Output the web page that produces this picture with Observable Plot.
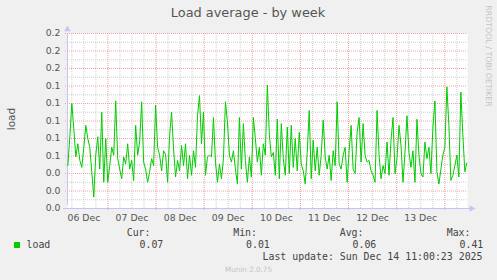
<!DOCTYPE html>
<html><head><meta charset="utf-8">
<script src="https://cdn.jsdelivr.net/npm/d3@7"></script>
<script src="https://cdn.jsdelivr.net/npm/@observablehq/plot@0.6"></script>
<style>
html,body{margin:0;padding:0;background:#f0f0f0;}
#wrap{position:relative;width:497px;height:280px;background:#f0f0f0;overflow:hidden;font-family:"DejaVu Sans",sans-serif;}
#wrap svg{position:absolute;left:0;top:0;}
.t{position:absolute;white-space:pre;line-height:1;}
.mono{font-family:"DejaVu Sans Mono",monospace;font-size:9.9px;color:#444;}
</style></head><body><div id="wrap"></div>
<script>
const title = "Load average - by week";
const yLabel = "load";
const seriesName = "load";
const seriesColor = "#00cc00";
const watermark = "RRDTOOL / TOBI OETIKER";
const footer = "Munin 2.0.75";
const lastUpdate = "Last update: Sun Dec 14 11:00:23 2025";
const statLabels = ["Cur:", "Min:", "Avg:", "Max:"];
const statValues = ["0.07", "0.01", "0.06", "0.41"];

// time window (UTC)
const firstSample = new Date(Date.UTC(2025, 11, 6, 4, 0));
const lastSample = new Date(Date.UTC(2025, 11, 14, 11, 0));
const viewStart = new Date(Date.UTC(2025, 11, 6, 3, 50));
const viewEnd = new Date(Date.UTC(2025, 11, 14, 11, 20));

const yTicks = [0, 0.02, 0.04, 0.06, 0.08, 0.10, 0.12, 0.14, 0.16, 0.18, 0.20];
const yTickLabels = ["0.0","0.0","0.0","0.1","0.1","0.1","0.1","0.1","0.2","0.2","0.2"];
const dayLabels = ["06 Dec","07 Dec","08 Dec","09 Dec","10 Dec","11 Dec","12 Dec","13 Dec"];
const dayLabelDates = [6,7,8,9,10,11,12,13].map(d => new Date(Date.UTC(2025, 11, d, 12)));
const dayBoundaries = [7,8,9,10,11,12,13,14].map(d => new Date(Date.UTC(2025, 11, d)));

// hourly load readings
const loadValues = [
0.049,0.082,0.120,0.091,0.059,0.074,0.055,0.047,0.070,0.095,0.080,0.070,0.042,0.013,0.061,0.082,0.045,0.110,0.030,0.080,0.030,0.049,0.070,0.061,0.123,0.057,0.045,0.034,0.059,0.051,0.074,0.045,0.055,0.032,0.095,0.061,0.076,0.122,0.053,0.045,0.030,0.042,0.057,0.049,0.118,0.070,0.061,0.043,0.066,0.062,
0.030,0.083,0.110,0.068,0.036,0.055,0.043,0.072,0.049,0.074,0.034,0.061,0.038,0.066,0.047,0.106,0.129,0.074,0.110,0.038,0.059,0.061,0.059,0.104,0.053,0.030,0.051,0.034,0.057,0.122,0.099,0.061,0.053,0.066,0.045,0.028,0.104,0.045,0.097,0.055,0.030,0.059,0.036,0.104,0.080,0.053,0.070,0.038,0.074,0.061,
0.141,0.085,0.059,0.064,0.038,0.102,0.034,0.097,0.057,0.038,0.093,0.040,0.095,0.047,0.080,0.043,0.087,0.051,0.043,0.028,0.064,0.112,0.034,0.078,0.043,0.070,0.038,0.061,0.101,0.059,0.045,0.061,0.032,0.066,0.049,0.122,0.051,0.045,0.061,0.070,0.030,0.066,0.095,0.045,0.040,0.087,0.104,0.053,0.097,0.061,
0.053,0.055,0.043,0.038,0.030,0.112,0.061,0.034,0.049,0.040,0.076,0.038,0.078,0.104,0.040,0.057,0.095,0.072,0.030,0.064,0.106,0.064,0.047,0.066,0.030,0.102,0.061,0.040,0.036,0.076,0.057,0.070,0.040,0.093,0.123,0.042,0.028,0.045,0.061,0.070,0.139,0.095,0.032,0.038,0.049,0.061,0.036,0.133,0.085,0.042,0.052
];

const step = (lastSample - firstSample) / (loadValues.length - 1);
const data = loadValues.map((v, i) => ({t: new Date(+firstSample + i * step), v}));
const minorX = d3.utcHour.every(6).range(viewStart, viewEnd).filter(d => d.getUTCHours() !== 0);
const minorY = yTicks.slice(1).map((d, i) => (d + yTicks[i]) / 2);

const gridMinor = "#cfcfcf";
const gridMajor = "#f4a0a0";
const axisColor = "#c4c4f4";

const chart = Plot.plot({
  width: 497, height: 280,
  marginLeft: 67, marginRight: 30, marginTop: 33, marginBottom: 72,
  style: {background: "transparent", fontFamily: "DejaVu Sans", fontSize: "9.3px", color: "#555", overflow: "visible"},
  x: {type: "utc", domain: [viewStart, viewEnd]},
  y: {domain: [0, 0.2]},
  marks: [
    Plot.frame({fill: "white", stroke: null}),
    Plot.ruleY(minorY, {stroke: gridMinor, strokeDasharray: "1,1", insetLeft: -2}),
    Plot.ruleX(minorX, {stroke: gridMinor, strokeDasharray: "1,1"}),
    Plot.ruleY(yTicks.slice(1), {stroke: gridMajor, strokeDasharray: "1,1", insetLeft: -2}),
    Plot.ruleX(dayBoundaries, {stroke: gridMajor, strokeDasharray: "1,1", insetBottom: -3}),
    Plot.ruleX([viewStart], {y1: 0, y2: 0.2, stroke: axisColor, insetTop: -3}),
    Plot.ruleY([0], {x1: viewStart, x2: viewEnd, stroke: axisColor, insetLeft: -4, insetRight: -3}),
    Plot.dot([viewStart], {x: d => d, y: () => 0.2, symbol: "triangle", r: 2.4, fill: axisColor, stroke: null, dy: -4}),
    Plot.dot([viewEnd], {x: d => d, y: () => 0, symbol: "triangle", r: 2.4, fill: axisColor, stroke: null, rotate: 90, dx: 4}),
    Plot.line(data, {x: "t", y: "v", stroke: seriesColor, strokeWidth: 1}),
    Plot.axisY(yTicks, {tickSize: 0, tickPadding: 7, tickFormat: d => yTickLabels[yTicks.indexOf(d)], label: null, fill: "#555"}),
    Plot.axisX(dayLabelDates, {tickSize: 0, tickPadding: 6, tickFormat: d => dayLabels[dayLabelDates.findIndex(e => +e === +d)], label: null, fill: "#555"})
  ]
});
const wrap = document.getElementById("wrap");
wrap.appendChild(chart);

function addText(txt, x, y, cls, style, anchor) {
  const el = document.createElement("div");
  el.className = "t " + (cls || "");
  el.textContent = txt;
  el.style.left = x + "px";
  el.style.top = y + "px";
  const tx = anchor === "end" ? "-100%" : anchor === "start" ? "0" : "-50%";
  el.style.transform = `translate(${tx},-50%)` + (style && style.rot ? ` rotate(${style.rot}deg)` : "");
  if (style) for (const k in style) if (k !== "rot") el.style[k] = style[k];
  wrap.appendChild(el);
  return el;
}
addText(title, 248, 13, "", {fontSize: "12.9px", color: "#555"});
addText(yLabel, 10.5, 119, "", {fontSize: "10.5px", color: "#555", rot: -90});
addText(watermark, 487.5, 56, "", {fontSize: "7.9px", color: "#c4c4c4", rot: 90});

const sw = document.createElement("div");
Object.assign(sw.style, {position: "absolute", left: "14px", top: "242px", width: "6px", height: "6px", background: seriesColor});
wrap.appendChild(sw);
addText(seriesName, 26.5, 245, "mono", null, "start");
const colRight = [150.5, 257, 363.5, 470.5];
statLabels.forEach((s, i) => addText(s, colRight[i], 232.5, "mono", null, "end"));
statValues.forEach((s, i) => addText(s, colRight[i] + 12.8, 245, "mono", null, "end"));
addText(lastUpdate, 482.5, 257, "mono", null, "end");
addText(footer, 248.5, 269.5, "", {fontSize: "7.2px", color: "#c4c4c4"});
</script></body></html>
